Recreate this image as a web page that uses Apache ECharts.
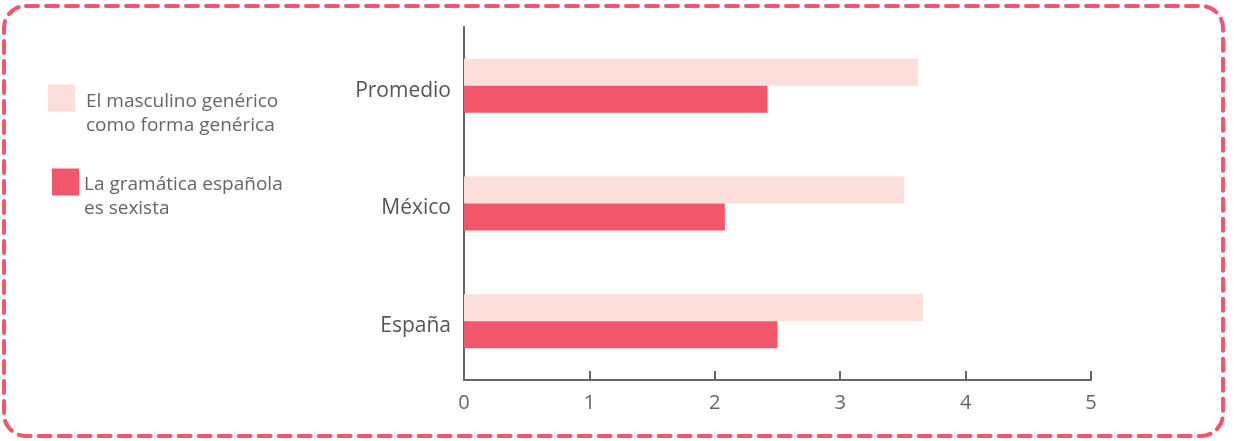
<!DOCTYPE html>
<html><head><meta charset="utf-8">
<script src="https://cdn.jsdelivr.net/npm/echarts@6/dist/echarts.min.js"></script>
<style>html,body{margin:0;padding:0;background:#fff}#c{width:1234px;height:441px}</style>
</head><body><div id="c"></div>
<script>
const categories = ['España', 'México', 'Promedio'];
const seriesNames = ['El masculino genérico como forma genérica', 'La gramática española es sexista'];
const legendLines = [['El masculino genérico', 'como forma genérica'], ['La gramática española', 'es sexista']];
const masculinoGenerico = [3.66, 3.51, 3.62];
const gramaticaSexista = [2.50, 2.08, 2.42];
const xTicks = [0, 1, 2, 3, 4, 5];

const LIGHT = '#fcdeda', DARK = '#f2566b';
const chart = echarts.init(document.getElementById('c'));
function legendFmt(i) {
  return function () { return '{p| }\n{a|' + legendLines[i][0] + '}\n{a|' + legendLines[i][1] + '}'; };
}
function legendStyle(padTop, padLeft) {
  return {
    color: '#666', fontSize: 19, fontFamily: 'Open Sans',
    rich: {
      p: {fontSize: 4, lineHeight: padTop, color: '#666'},
      a: {fontSize: 19, lineHeight: 24, color: '#666', fontFamily: 'Open Sans', padding: [0, 0, 0, padLeft]}
    }
  };
}
chart.setOption({
  animation: false,
  textStyle: {fontFamily: 'Open Sans'},
  grid: {left: 464, right: 143, top: 27, bottom: 61, containLabel: false},
  legend: [
    {data: [seriesNames[0]], formatter: legendFmt(0), left: 48, top: 72, padding: 0, orient: 'vertical', icon: 'rect',
     itemWidth: 27, itemHeight: 27, selectedMode: false, textStyle: legendStyle(32, 6)},
    {data: [seriesNames[1]], formatter: legendFmt(1), left: 52, top: 156, padding: 0, orient: 'vertical', icon: 'rect',
     itemWidth: 27, itemHeight: 27, selectedMode: false, textStyle: legendStyle(29, 0)}
  ],
  xAxis: {
    type: 'value', min: xTicks[0], max: xTicks[xTicks.length - 1], interval: 1,
    splitLine: {show: false},
    axisLine: {show: true, lineStyle: {color: '#666', width: 2}},
    axisTick: {show: true, inside: true, length: 9, lineStyle: {color: '#666', width: 2}},
    axisLabel: {color: '#666', fontSize: 20, margin: 13}
  },
  yAxis: {
    type: 'category', data: categories,
    axisLine: {show: true, lineStyle: {color: '#666', width: 2}},
    axisTick: {show: false},
    axisLabel: {
      color: '#555', fontSize: 21, margin: 13,
      formatter: function (v) { return '{a|' + v + '}'; },
      rich: {a: {color: '#555', fontSize: 21, fontFamily: 'Open Sans', padding: [10, 0, 0, 0]}}
    }
  },
  series: [
    {name: seriesNames[0], type: 'bar', data: masculinoGenerico, barWidth: 27, barGap: '0%',
     itemStyle: {color: LIGHT}},
    {name: seriesNames[1], type: 'bar', data: gramaticaSexista, barWidth: 27, barGap: '0%',
     itemStyle: {color: DARK}}
  ],
  graphic: [{
    type: 'rect', silent: true, z: -1,
    shape: {x: 4, y: 6, width: 1219, height: 430, r: 22},
    style: {fill: 'none', stroke: DARK, lineWidth: 4, lineDash: [12, 8], lineCap: 'round'}
  }]
});
</script></body></html>
